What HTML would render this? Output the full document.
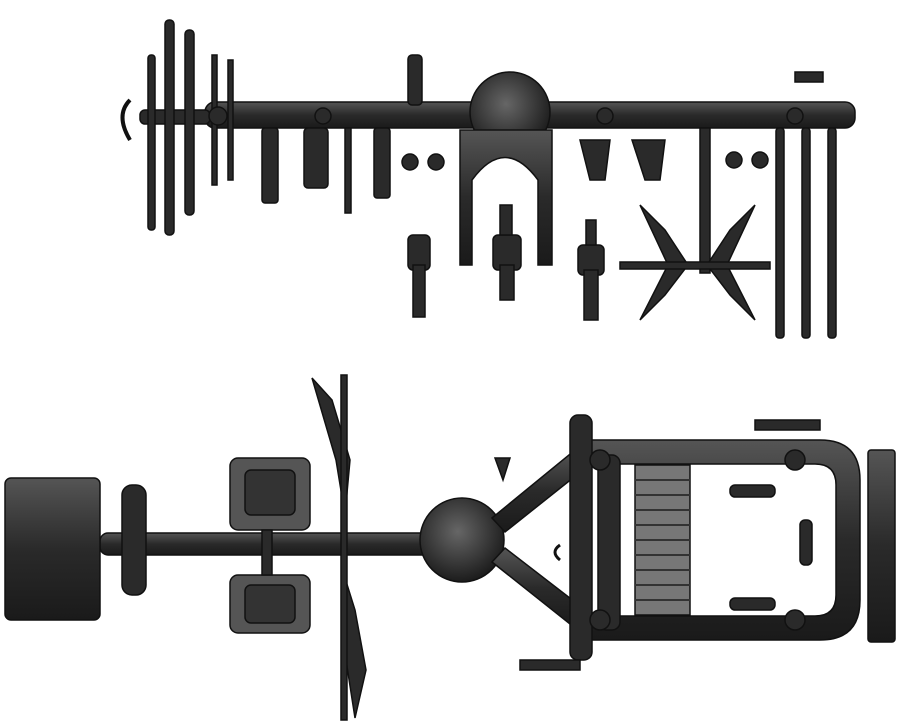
<!DOCTYPE html>
<html><head><meta charset="utf-8"><style>
html,body{margin:0;padding:0;background:#fff;width:899px;height:726px;overflow:hidden}
svg{display:block}
</style></head><body>
<svg width="899" height="726" viewBox="0 0 899 726" xmlns="http://www.w3.org/2000/svg">
<defs>
<linearGradient id="g" x1="0" y1="0" x2="0" y2="1"><stop offset="0" stop-color="#555"/><stop offset="0.5" stop-color="#2a2a2a"/><stop offset="1" stop-color="#1a1a1a"/></linearGradient>
<radialGradient id="r" cx="0.45" cy="0.4" r="0.6"><stop offset="0" stop-color="#666"/><stop offset="1" stop-color="#1c1c1c"/></radialGradient>
</defs>
<g fill="#2a2a2a" stroke="#111" stroke-width="1.5">
<!-- TOP SPRUE -->
<rect x="205" y="102" width="650" height="26" rx="10" fill="url(#g)"/>
<circle cx="510" cy="112" r="40" fill="url(#r)"/>
<path d="M460 130 L460 265 L472 265 L472 180 Q505 135 538 180 L538 265 L552 265 L552 130 Z" fill="url(#g)"/>
<rect x="140" y="110" width="70" height="14" rx="5"/>
<rect x="148" y="55" width="7" height="175" rx="3"/>
<rect x="165" y="20" width="9" height="215" rx="4"/>
<rect x="185" y="30" width="9" height="185" rx="4"/>
<rect x="212" y="55" width="5" height="130"/>
<rect x="228" y="60" width="5" height="120"/>
<circle cx="218" cy="116" r="9"/><circle cx="323" cy="116" r="8"/><circle cx="605" cy="116" r="8"/><circle cx="795" cy="116" r="8"/>
<path d="M130 100 Q115 115 130 140" fill="none" stroke-width="4"/>
<rect x="262" y="128" width="16" height="75" rx="3"/>
<rect x="304" y="128" width="24" height="60" rx="4"/>
<rect x="345" y="128" width="6" height="85"/>
<rect x="374" y="128" width="16" height="70" rx="3"/>
<circle cx="410" cy="162" r="8"/><circle cx="436" cy="162" r="8"/>
<rect x="408" y="55" width="14" height="50" rx="4"/>
<rect x="700" y="128" width="10" height="145"/>
<rect x="776" y="128" width="8" height="210" rx="3"/>
<rect x="802" y="128" width="8" height="210" rx="3"/>
<rect x="828" y="128" width="8" height="210" rx="3"/>
<rect x="795" y="72" width="28" height="10"/>
<circle cx="734" cy="160" r="8"/><circle cx="760" cy="160" r="8"/>
<path d="M580 140 L610 140 L605 180 L590 180 Z"/>
<path d="M632 140 L665 140 L660 180 L645 180 Z"/>
<rect x="408" y="235" width="22" height="35" rx="5"/><rect x="413" y="265" width="12" height="52"/>
<rect x="493" y="235" width="28" height="35" rx="5"/><rect x="500" y="265" width="14" height="35"/>
<rect x="578" y="245" width="26" height="30" rx="5"/><rect x="584" y="270" width="14" height="50"/>
<rect x="500" y="205" width="12" height="30"/><rect x="586" y="220" width="10" height="25"/>
<path d="M640 205 L665 230 L688 265 L665 295 L640 320 L668 265 Z"/>
<path d="M755 205 L730 230 L707 265 L730 295 L755 320 L727 265 Z"/>
<rect x="620" y="262" width="150" height="7"/>
<!-- BOTTOM SPRUE -->
<rect x="100" y="533" width="340" height="22" rx="8" fill="url(#g)"/>
<rect x="5" y="478" width="95" height="142" rx="6" fill="url(#g)"/>
<rect x="122" y="485" width="24" height="110" rx="10"/>
<rect x="230" y="458" width="80" height="72" rx="8" fill="#555"/>
<rect x="245" y="470" width="50" height="45" rx="6" fill="#333"/>
<rect x="230" y="575" width="80" height="58" rx="8" fill="#555"/>
<rect x="245" y="585" width="50" height="38" rx="6" fill="#333"/>
<rect x="262" y="530" width="10" height="45"/>
<path d="M312 378 L332 400 L350 460 L345 515 L336 460 Z"/>
<path d="M345 578 L355 610 L366 670 L355 718 L346 660 Z"/>
<rect x="341" y="375" width="6" height="345"/>
<circle cx="462" cy="540" r="42" fill="url(#r)"/>
<path d="M492 518 L575 450 L588 466 L505 532 Z" fill="url(#g)"/>
<path d="M492 562 L575 628 L588 612 L505 548 Z" fill="url(#g)"/>
<path d="M590 440 L820 440 Q860 440 860 480 L860 600 Q860 640 820 640 L590 640 L590 616 L815 616 Q836 616 836 595 L836 485 Q836 464 815 464 L590 464 Z" fill="url(#g)"/>
<rect x="570" y="415" width="22" height="245" rx="8"/>
<rect x="598" y="455" width="22" height="175" rx="8"/>
<circle cx="600" cy="460" r="10"/><circle cx="795" cy="460" r="10"/><circle cx="600" cy="620" r="10"/><circle cx="795" cy="620" r="10"/>
<rect x="635" y="465" width="55" height="150" fill="#777"/>
<g stroke="#333" stroke-width="2"><line x1="635" y1="480" x2="690" y2="480"/><line x1="635" y1="495" x2="690" y2="495"/><line x1="635" y1="510" x2="690" y2="510"/><line x1="635" y1="525" x2="690" y2="525"/><line x1="635" y1="540" x2="690" y2="540"/><line x1="635" y1="555" x2="690" y2="555"/><line x1="635" y1="570" x2="690" y2="570"/><line x1="635" y1="585" x2="690" y2="585"/><line x1="635" y1="600" x2="690" y2="600"/></g>
<rect x="730" y="485" width="45" height="12" rx="5"/>
<rect x="730" y="598" width="45" height="12" rx="5"/>
<rect x="800" y="520" width="12" height="45" rx="5"/>
<rect x="868" y="450" width="27" height="192" rx="3" fill="url(#g)"/>
<rect x="755" y="420" width="65" height="10"/>
<rect x="520" y="660" width="60" height="10"/>
<path d="M495 458 L510 458 L503 480 Z"/>
<path d="M560 545 Q550 552 560 560" fill="none" stroke-width="3"/>
</g>
</svg>
</body></html>
